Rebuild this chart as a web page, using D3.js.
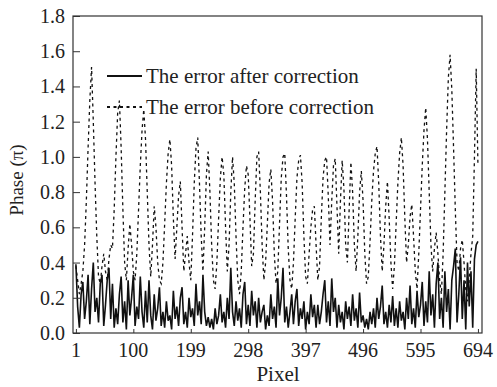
<!DOCTYPE html>
<html lang="en">
<head>
<meta charset="UTF-8">
<title>Phase error</title>
<style>
  body { margin: 0; background: #fff; }
</style>
</head>
<body>
<script src="https://d3js.org/d3.v7.min.js"></script>
<script>
// pixel samples every 3 pixels, starting at pixel 1
const xStart = 1;
const xStep = 3;
const xTicks = [1, 100, 199, 298, 397, 496, 595, 694];
const yTicks = [0, 0.2, 0.4, 0.6, 0.8, 1.0, 1.2, 1.4, 1.6, 1.8];
const seriesNames = ["The error after correction", "The error before correction"];

// error after correction (solid)
const after = [
  0.39,0.15,0.03,0.22,0.29,0.08,0.18,0.33,0.05,0.25,
  0.40,0.12,0.20,0.06,0.28,0.33,0.04,0.16,0.30,0.37,
  0.08,0.28,0.03,0.14,0.05,0.22,0.32,0.06,0.18,0.02,
  0.30,0.10,0.20,0.33,0.04,0.15,0.08,0.32,0.12,0.03,
  0.24,0.06,0.30,0.10,0.02,0.22,0.07,0.14,0.26,0.04,
  0.12,0.03,0.18,0.07,0.10,0.02,0.24,0.08,0.15,0.04,
  0.20,0.26,0.05,0.12,0.03,0.20,0.09,0.14,0.04,0.28,
  0.10,0.18,0.05,0.33,0.12,0.04,0.09,0.03,0.08,0.02,
  0.14,0.05,0.10,0.22,0.06,0.12,0.03,0.20,0.08,0.37,
  0.12,0.04,0.18,0.07,0.14,0.03,0.22,0.29,0.05,0.16,
  0.04,0.24,0.10,0.18,0.03,0.20,0.06,0.12,0.16,0.02,
  0.10,0.04,0.22,0.08,0.15,0.03,0.31,0.10,0.20,0.37,
  0.06,0.15,0.03,0.12,0.22,0.05,0.18,0.25,0.04,0.14,
  0.08,0.18,0.02,0.12,0.05,0.22,0.09,0.16,0.03,0.16,
  0.05,0.12,0.22,0.30,0.06,0.18,0.04,0.31,0.12,0.20,
  0.03,0.16,0.06,0.12,0.02,0.18,0.08,0.15,0.04,0.22,
  0.07,0.14,0.03,0.23,0.06,0.10,0.03,0.08,0.02,0.12,
  0.05,0.14,0.03,0.20,0.08,0.15,0.27,0.05,0.12,0.03,
  0.16,0.06,0.21,0.04,0.14,0.03,0.18,0.07,0.12,0.02,
  0.20,0.08,0.27,0.05,0.14,0.03,0.24,0.09,0.16,0.29,
  0.04,0.18,0.06,0.35,0.10,0.22,0.03,0.28,0.40,0.08,
  0.20,0.03,0.35,0.12,0.25,0.02,0.30,0.38,0.48,0.06,
  0.22,0.43,0.08,0.30,0.02,0.40,0.15,0.35,0.03,0.42,
  0.50,0.52
];

// error before correction (dashed)
const before = [
  0.38,0.30,0.22,0.28,0.35,0.50,0.75,1.05,1.32,1.51,1.20,0.85,0.55,0.32,0.28,0.38,0.45,0.35,0.30,0.42,
  0.50,0.48,0.70,1.00,1.25,1.32,1.05,0.70,0.40,0.30,0.48,0.62,0.50,0.35,0.30,0.45,0.70,0.95,1.15,1.27,
  1.10,0.80,0.50,0.32,0.50,0.72,0.60,0.40,0.30,0.28,0.40,0.62,0.85,1.02,1.10,0.95,0.65,0.42,0.60,0.78,
  0.86,0.60,0.35,0.45,0.55,0.40,0.30,0.55,0.85,1.05,1.11,0.85,0.55,0.35,0.60,0.90,1.03,0.80,0.50,0.30,
  0.25,0.40,0.65,0.88,1.00,0.90,0.60,0.35,0.50,0.80,1.00,0.85,0.55,0.30,0.22,0.35,0.60,0.82,0.95,0.90,
  0.65,0.38,0.45,0.75,1.00,1.03,0.80,0.50,0.30,0.40,0.62,0.85,0.93,0.75,0.45,0.28,0.35,0.62,0.88,1.00,
  1.02,0.78,0.48,0.30,0.25,0.40,0.65,0.88,0.98,1.01,0.85,0.55,0.32,0.28,0.45,0.60,0.70,0.72,0.50,0.30,
  0.38,0.65,0.88,0.98,1.00,0.78,0.50,0.75,0.95,0.99,0.72,0.45,0.75,0.98,0.82,0.50,0.40,0.70,0.97,0.80,
  0.50,0.35,0.55,0.80,0.92,0.75,0.45,0.28,0.32,0.52,0.75,0.92,1.02,1.06,0.85,0.55,0.35,0.50,0.72,0.86,
  0.65,0.40,0.25,0.38,0.62,0.85,1.02,1.11,0.95,0.65,0.40,0.50,0.66,0.73,0.55,0.35,0.25,0.45,0.70,0.95,
  1.15,1.28,1.10,0.80,0.50,0.35,0.48,0.57,0.45,0.30,0.22,0.45,0.80,1.15,1.45,1.58,1.38,1.05,0.70,0.40,
  0.35,0.48,0.53,0.40,0.25,0.18,0.30,0.45,0.55,1.00,1.50,0.95
];

const W = 497, H = 387;
const plotLeft = 73, plotRight = 482, plotTop = 16, plotBottom = 333;
const serif = "'Liberation Serif', 'Times New Roman', Times, serif";
const textColor = "#222";

const svg = d3.select("body").append("svg")
  .attr("width", W)
  .attr("height", H)
  .attr("font-family", serif);

const x = d3.scaleLinear().domain([-4, 701]).range([plotLeft, plotRight]);
const y = d3.scaleLinear().domain([0, 1.8]).range([plotBottom, plotTop]);

svg.append("clipPath").attr("id", "plot")
  .append("rect")
  .attr("x", plotLeft).attr("y", plotTop)
  .attr("width", plotRight - plotLeft).attr("height", plotBottom - plotTop);

const line = d3.line()
  .x((d, i) => x(xStart + i * xStep))
  .y(d => y(d));

// dashed first so the solid one sits on top
svg.append("path")
  .datum(before)
  .attr("clip-path", "url(#plot)")
  .attr("fill", "none")
  .attr("stroke", "#111")
  .attr("stroke-width", 1.3)
  .attr("stroke-dasharray", "3,3.5")
  .attr("d", line);

svg.append("path")
  .datum(after)
  .attr("clip-path", "url(#plot)")
  .attr("fill", "none")
  .attr("stroke", "#111")
  .attr("stroke-width", 1.6)
  .attr("d", line);

// frame
svg.append("rect")
  .attr("x", plotLeft).attr("y", plotTop)
  .attr("width", plotRight - plotLeft).attr("height", plotBottom - plotTop)
  .attr("fill", "none")
  .attr("stroke", "#333")
  .attr("stroke-width", 1.2);

// y axis, ticks pointing inward
const yAxis = svg.append("g")
  .attr("transform", `translate(${plotLeft},0)`)
  .call(d3.axisRight(y).tickValues(yTicks).tickSize(7).tickFormat(""));
yAxis.select(".domain").remove();
yAxis.selectAll("line").attr("stroke", "#333");

svg.append("g").selectAll("text")
  .data(yTicks)
  .join("text")
  .attr("x", plotLeft - 8)
  .attr("y", d => y(d))
  .attr("dy", "0.35em")
  .attr("text-anchor", "end")
  .attr("font-size", 20)
  .attr("fill", textColor)
  .text(d3.format(".1f"));

// x axis
const xAxis = svg.append("g")
  .attr("transform", `translate(0,${plotBottom})`)
  .call(d3.axisTop(x).tickValues(xTicks).tickSize(4).tickFormat(""));
xAxis.select(".domain").remove();
xAxis.selectAll("line").attr("stroke", "#333");

svg.append("g").selectAll("text")
  .data(xTicks)
  .join("text")
  .attr("x", d => x(d))
  .attr("y", 357)
  .attr("text-anchor", "middle")
  .attr("font-size", 20)
  .attr("fill", textColor)
  .text(d => d);

svg.append("text")
  .attr("x", 278)
  .attr("y", 381)
  .attr("text-anchor", "middle")
  .attr("font-size", 21)
  .attr("fill", textColor)
  .text("Pixel");

svg.append("text")
  .attr("transform", "translate(23,180) rotate(-90)")
  .attr("text-anchor", "middle")
  .attr("font-size", 19)
  .attr("fill", textColor)
  .text("Phase (\u03c0)");

// legend
const legend = svg.append("g");
[76, 107].forEach((ly, i) => {
  legend.append("line")
    .attr("x1", 107).attr("x2", 142)
    .attr("y1", ly).attr("y2", ly)
    .attr("stroke", "#111")
    .attr("stroke-width", i === 0 ? 2 : 1.8)
    .attr("stroke-dasharray", i === 0 ? null : "3,3.5");
  legend.append("text")
    .attr("x", 146)
    .attr("y", ly)
    .attr("dy", "0.35em")
    .attr("font-size", 21)
    .attr("fill", textColor)
    .text(seriesNames[i]);
});
</script>
</body>
</html>
